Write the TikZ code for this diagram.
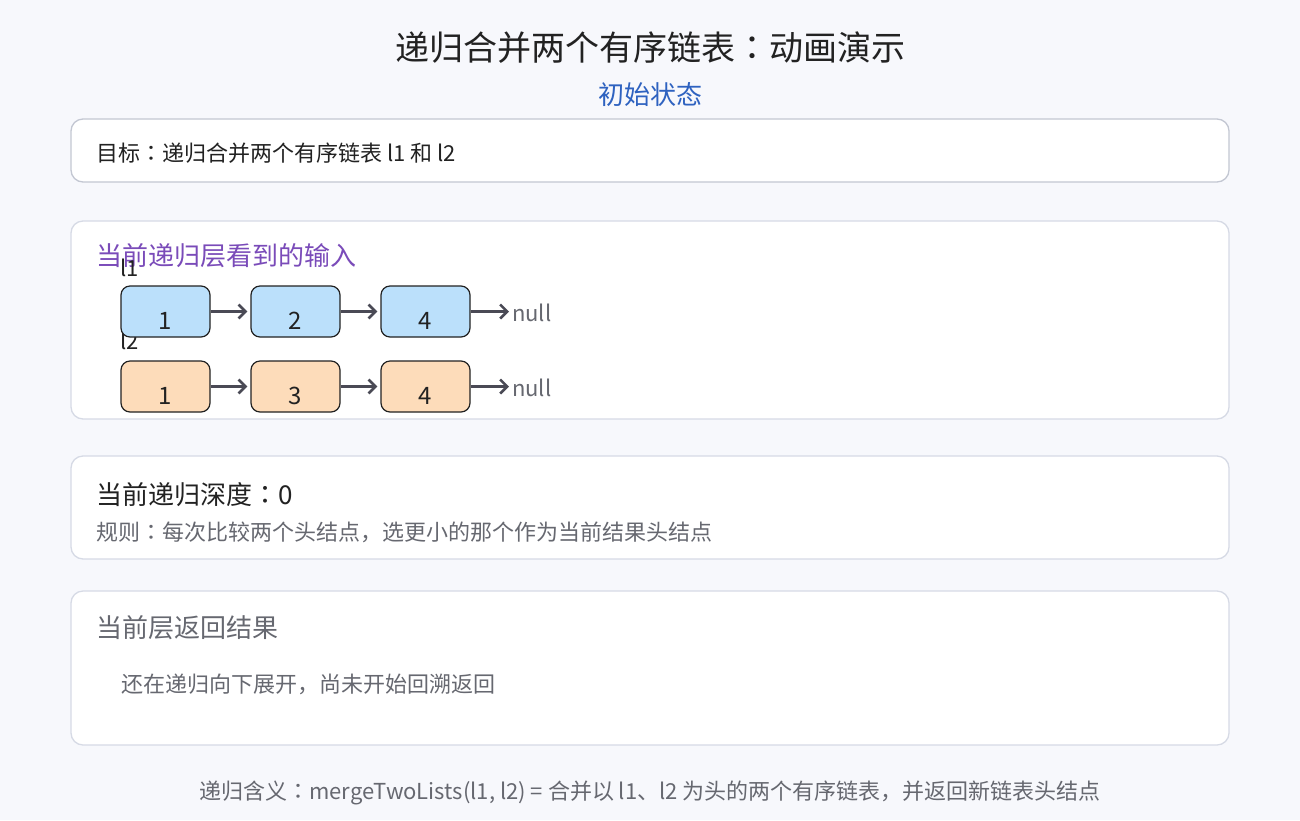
\documentclass[tikz,border=0pt]{standalone}
\usepackage{fontspec}
\setmainfont{Noto Sans CJK SC}
\newfontfamily\jpfont{Noto Sans CJK JP}
\newcommand{\cc}{{\jpfont ：}}
\usetikzlibrary{arrows.meta}
\definecolor{bg}{HTML}{F7F8FC}
\definecolor{cardline}{HTML}{D6DAE5}
\definecolor{cardlinea}{HTML}{C3C7D2}
\definecolor{titlec}{HTML}{222222}
\definecolor{subc}{HTML}{2E62C0}
\definecolor{purp}{HTML}{7A4BB9}
\definecolor{grayt}{HTML}{666870}
\definecolor{bluef}{HTML}{BBE0FB}
\definecolor{orangef}{HTML}{FDDCBA}
\definecolor{arrc}{HTML}{4A4A55}
\newcommand{\fs}[1]{\fontsize{#1pt}{#1pt}\selectfont}
\tikzset{
  card/.style={draw=cardline, line width=1.3pt, fill=white, rounded corners=12pt},
  lnode/.style={draw=titlec, line width=1.2pt, rounded corners=9pt, minimum width=89pt, minimum height=51pt, inner sep=0pt},
  numtxt/.style={font=\fs{24}, text=titlec, inner sep=0pt},
  linkarr/.style={draw=arrc, line width=2.8pt, -{Straight Barb[length=7pt,width=14pt,line width=2.6pt]}, shorten >=3pt},
  txt/.style={inner sep=0pt, anchor=west}
}
\begin{document}
\begin{tikzpicture}[x=1pt,y=-1pt]
\fill[bg] (0,0) rectangle (1300,820);
\useasboundingbox (0,0) rectangle (1300,820);
% title
\node[inner sep=0pt, text=titlec, font=\fs{34}] (title) at (650,48) {递归合并两个有序链表\cc 动画演示};
\node[inner sep=0pt, text=subc, font=\fs{26}] (sub) at (650,95) {初始状态};
% card 1
\draw[card, draw=cardlinea] (71,119) rectangle (1229,182);
\node[txt, font=\fs{22}, text=titlec] (goal) at (96,153) {目标\cc 递归合并两个有序链表 l1 和 l2};
% card 2
\draw[card] (71,221) rectangle (1229,419);
\node[txt, font=\fs{26}, text=purp] (h2) at (96,256) {当前递归层看到的输入};
\node[txt, font=\fs{22}, text=titlec] (l1lab) at (120,268) {l1};
\node[txt, font=\fs{22}, text=titlec] (l2lab) at (120,341) {l2};
% l1 row
\node[lnode, fill=bluef] (a1) at (165.5,311.5) {};
\node[lnode, fill=bluef] (a2) at (295.5,311.5) {};
\node[lnode, fill=bluef] (a3) at (425.5,311.5) {};
\node[numtxt] (a1t) at (165.5,321) {1};
\node[numtxt] (a2t) at (295.5,321) {2};
\node[numtxt] (a3t) at (425.5,321) {4};
\node[txt, font=\fs{22}, text=grayt] (n1) at (512,313) {null};
\draw[linkarr] (a1.east) -- (a2.west);
\draw[linkarr] (a2.east) -- (a3.west);
\draw[linkarr] (a3.east) -- (a3.east -| n1.west);
% l2 row
\node[lnode, fill=orangef] (b1) at (165.5,386.5) {};
\node[lnode, fill=orangef] (b2) at (295.5,386.5) {};
\node[lnode, fill=orangef] (b3) at (425.5,386.5) {};
\node[numtxt] (b1t) at (165.5,396) {1};
\node[numtxt] (b2t) at (295.5,396) {3};
\node[numtxt] (b3t) at (425.5,396) {4};
\node[txt, font=\fs{22}, text=grayt] (n2) at (512,388) {null};
\draw[linkarr] (b1.east) -- (b2.west);
\draw[linkarr] (b2.east) -- (b3.west);
\draw[linkarr] (b3.east) -- (b3.east -| n2.west);
% card 3
\draw[card] (71,456) rectangle (1229,559);
\node[txt, font=\fs{26}, text=titlec] (depth) at (96,495) {当前递归深度\cc 0};
\node[txt, font=\fs{22}, text=grayt] (rule) at (96,532) {规则\cc 每次比较两个头结点，选更小的那个作为当前结果头结点};
% card 4
\draw[card] (71,591) rectangle (1229,745);
\node[txt, font=\fs{26}, text=grayt] (h4) at (96,628) {当前层返回结果};
\node[txt, font=\fs{22}, text=grayt] (ret) at (121,684) {还在递归向下展开，尚未开始回溯返回};
% footer
\node[inner sep=0pt, font=\fs{22}, text=grayt] (foot) at (650,793) {递归含义\cc mergeTwoLists(l1, l2) = 合并以 l1、l2 为头的两个有序链表，并返回新链表头结点};
\end{tikzpicture}
\end{document}
